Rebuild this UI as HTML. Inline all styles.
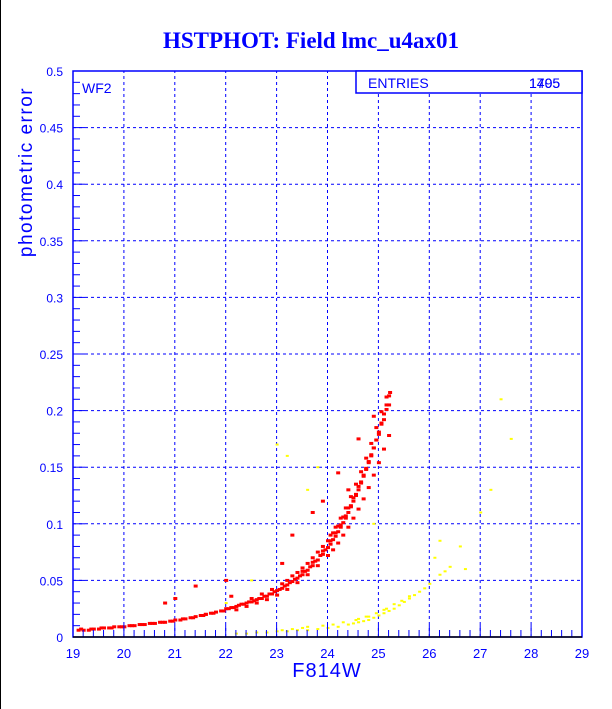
<!DOCTYPE html>
<html><head><meta charset="utf-8"><style>
body{margin:0;background:#fff;}
#wrap{position:relative;width:612px;height:709px;overflow:hidden;background:#fff;border-left:1px solid #000;box-sizing:border-box;}
svg text{font-family:"Liberation Sans",sans-serif;fill:#0000ff;}
</style></head><body>
<div id="wrap">
<svg id="chart" width="612" height="709">
<text x="310" y="48" text-anchor="middle" style="font-family:'Liberation Serif',serif;font-weight:bold;font-size:23px">HSTPHOT: Field lmc_u4ax01</text>
<text transform="translate(31,172) rotate(-90)" text-anchor="middle" style="font-size:19px;letter-spacing:1.5px">photometric error</text>
<text x="326" y="677" text-anchor="middle" style="font-size:20px;letter-spacing:1px">F814W</text>
<g id="grid"></g><g id="marks"></g><g id="axes"></g>
<text x="81" y="93" style="font-size:14px">WF2</text>
<rect x="355" y="71" width="226" height="22" fill="#fff" stroke="#0000ff" stroke-width="1.5"/>
<text x="367" y="88" style="font-size:14px">ENTRIES</text>
<text x="528" y="88" style="font-size:14px">1795</text>
<text x="528" y="88" style="font-size:14px">1405</text>
</svg></div>
<script>
const xTicks=[19,20,21,22,23,24,25,26,27,28,29];
const yTicks=[0,0.05,0.1,0.15,0.2,0.25,0.3,0.35,0.4,0.45,0.5];
const yTickLabels=["0","0.05","0.1","0.15","0.2","0.25","0.3","0.35","0.4","0.45","0.5"];
const redX=[19.1,19.2,19.3,19.4,19.5,19.6,19.7,19.8,19.9,20.0,20.1,20.2,20.3,20.4,20.5,20.6,20.7,20.8,20.9,21.0,21.1,21.2,21.3,21.4,21.5,21.6,21.7,21.8,21.9,22.0,22.1,22.2,22.3,22.4,22.5,22.6,22.7,22.8,22.9,23.0,23.1,23.2,23.3,23.4,23.5,23.6,23.7,23.8,23.9,24.0,24.05,24.1,24.15,24.2,24.25,24.3,24.35,24.4,24.45,24.5,24.55,24.6,24.65,24.7,24.75,24.8,24.85,24.9,24.95,25.0,25.05,25.1,25.15,25.2,
19.15,19.35,19.55,19.75,19.95,20.15,20.35,20.55,20.75,20.95,21.15,21.35,21.55,21.75,21.95,22.05,22.15,22.25,22.35,22.45,22.55,22.65,22.75,22.85,22.95,23.05,23.15,23.25,23.35,23.45,23.55,23.65,23.75,23.85,23.95,
22.2,22.4,22.6,22.8,23.0,23.2,23.4,23.6,23.8,24.0,24.1,24.2,24.3,24.4,24.5,24.6,24.7,24.8,24.9,25.0,25.1,25.2,
22.5,22.7,22.9,23.1,23.3,23.5,23.7,23.9,24.05,24.15,24.25,24.35,24.45,24.55,24.65,24.75,24.85,24.95,25.05,25.15,
23.2,23.4,23.6,23.8,24.0,24.1,24.2,24.3,24.4,24.5,24.6,24.7,24.8,24.9,25.0,25.1,25.2,
23.5,23.7,23.9,24.05,24.15,24.25,24.35,24.45,24.55,24.65,24.75,24.85,24.95,25.05,25.15,25.22,
20.8,21.0,21.4,22.1,23.1,23.3,23.9,24.2,24.6,24.4,23.7,24.9,22.0,21.6];
const redY=[0.006,0.006,0.006,0.007,0.007,0.008,0.008,0.009,0.009,0.009,0.010,0.010,0.011,0.011,0.012,0.012,0.013,0.013,0.014,0.015,0.015,0.016,0.017,0.018,0.019,0.020,0.021,0.022,0.023,0.025,0.026,0.027,0.029,0.030,0.031,0.033,0.034,0.036,0.038,0.041,0.043,0.046,0.049,0.052,0.055,0.059,0.063,0.068,0.073,0.079,0.082,0.086,0.089,0.093,0.097,0.101,0.105,0.110,0.115,0.120,0.125,0.130,0.136,0.142,0.148,0.154,0.160,0.167,0.174,0.181,0.189,0.197,0.205,0.213,
0.007,0.007,0.008,0.008,0.009,0.010,0.011,0.012,0.013,0.014,0.016,0.017,0.019,0.021,0.023,0.025,0.026,0.028,0.029,0.031,0.032,0.034,0.036,0.038,0.040,0.042,0.045,0.048,0.051,0.054,0.058,0.062,0.067,0.072,0.077,
0.024,0.027,0.030,0.033,0.037,0.042,0.048,0.055,0.063,0.072,0.077,0.083,0.090,0.097,0.105,0.113,0.122,0.132,0.143,0.154,0.166,0.178,
0.034,0.038,0.042,0.047,0.054,0.061,0.070,0.080,0.090,0.097,0.105,0.114,0.124,0.135,0.146,0.158,0.171,0.185,0.199,0.212,
0.050,0.057,0.065,0.075,0.085,0.092,0.098,0.106,0.114,0.123,0.133,0.143,0.155,0.167,0.179,0.192,0.205,
0.058,0.066,0.076,0.085,0.092,0.099,0.107,0.116,0.126,0.137,0.149,0.161,0.174,0.188,0.201,0.216,
0.030,0.034,0.045,0.036,0.065,0.090,0.120,0.145,0.175,0.130,0.110,0.195,0.050,0.020];
const yelX=[22.2,22.4,22.6,22.8,23.0,23.2,23.4,23.6,23.8,24.0,24.2,24.4,24.5,24.6,24.7,24.8,24.9,25.0,25.1,25.2,25.3,25.4,25.5,25.6,25.7,25.8,25.9,26.0,26.2,26.4,26.3,
23.1,23.3,23.5,23.6,23.9,24.1,24.3,24.6,24.8,25.1,25.3,25.6,24.55,24.75,24.95,25.15,25.45,
23.0,23.2,23.6,23.8,22.0,22.5,24.9,26.2,26.6,27.0,27.2,27.4,27.6,26.1,26.7];
const yelY=[0.003,0.003,0.004,0.004,0.005,0.005,0.006,0.006,0.007,0.008,0.009,0.011,0.012,0.013,0.014,0.015,0.017,0.019,0.021,0.023,0.025,0.028,0.031,0.034,0.037,0.040,0.043,0.047,0.055,0.062,0.058,
0.006,0.007,0.008,0.009,0.010,0.011,0.013,0.016,0.018,0.024,0.029,0.036,0.015,0.018,0.021,0.025,0.032,
0.170,0.160,0.130,0.150,0.030,0.050,0.100,0.085,0.080,0.110,0.130,0.210,0.175,0.070,0.060];
const X0=72,X1=581,Y0=637,Y1=71;
const sx=v=>X0+(v-19)/(29-19)*(X1-X0);
const sy=v=>Y0-(v-0)/(0.5-0)*(Y0-Y1);
const NS="http://www.w3.org/2000/svg";
function mk(t,a,p){const e=document.createElementNS(NS,t);for(const k in a)e.setAttribute(k,a[k]);p.appendChild(e);return e;}
const grid=document.getElementById('grid'),marks=document.getElementById('marks'),axes=document.getElementById('axes');
xTicks.forEach((v,i)=>{
 if(i>0&&i<xTicks.length-1){const l=mk('line',{x1:sx(v),x2:sx(v),y1:Y0,y2:Y1,stroke:'#0000ff','stroke-dasharray':'3,3','stroke-width':1},grid);
 
 }
 const t=mk('text',{x:sx(v),y:Y0+21,'text-anchor':'middle','font-size':'13'},axes);t.textContent=v;
 
 
 mk('line',{x1:sx(v),x2:sx(v),y1:Y0,y2:Y0-12,stroke:'#0000ff'},axes);
 if(i<xTicks.length-1)for(let k=1;k<5;k++){const xv=v+k*0.2;mk('line',{x1:sx(xv),x2:sx(xv),y1:Y0,y2:Y0-7,stroke:'#0000ff'},axes);}
});
yTicks.forEach((v,i)=>{
 if(i>0&&i<yTicks.length-1){const l=mk('line',{x1:X0,x2:X1,y1:sy(v),y2:sy(v),stroke:'#0000ff','stroke-dasharray':'3,3','stroke-width':1},grid);
 
 }
 const t=mk('text',{x:62,y:sy(v)+5,'text-anchor':'end','font-size':'12'},axes);t.textContent=yTickLabels[i];
 
 
 mk('line',{x1:X0,x2:X0+12,y1:sy(v),y2:sy(v),stroke:'#0000ff'},axes);
 if(i<yTicks.length-1)for(let k=1;k<5;k++){const yv=v+k*0.01;mk('line',{x1:X0,x2:X0+7,y1:sy(yv),y2:sy(yv),stroke:'#0000ff'},axes);}
});
const frame=mk('rect',{x:X0,y:Y1,width:X1-X0,height:Y0-Y1,fill:'none',stroke:'#0000ff','stroke-width':1.5},axes);


mk('line',{x1:X0,x2:X1,y1:Y0,y2:Y0,stroke:'#000','stroke-width':1.5},axes);
yelX.forEach((v,i)=>{const r=mk('rect',{x:sx(v)-1,y:sy(yelY[i])-1,width:3,height:2,fill:'#ffff00'},marks);
 
 });
redX.forEach((v,i)=>{const r=mk('rect',{x:sx(v)-1.5,y:sy(redY[i])-1.5,width:4,height:3,fill:'#ff0000'},marks);
 
 });
</script>
</body></html>
